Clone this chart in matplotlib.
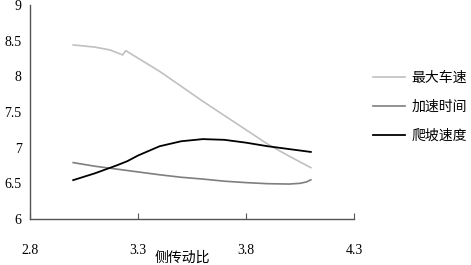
import matplotlib
matplotlib.use('Agg')
import matplotlib.pyplot as plt

plt.rcParams['font.family'] = ['Liberation Serif', 'Noto Sans CJK SC', 'DejaVu Sans']

# 最大车速
x_max = [3.0, 3.1, 3.17, 3.229, 3.243, 3.4, 3.6, 3.8, 3.9, 4.0, 4.1]
y_max = [8.44, 8.41, 8.37, 8.30, 8.36, 8.07, 7.65, 7.25, 7.05, 6.88, 6.72]

# 加速时间
x_acc = [3.0, 3.1, 3.2, 3.3, 3.4, 3.5, 3.6, 3.7, 3.8, 3.9, 4.0, 4.05, 4.08, 4.1]
y_acc = [6.79, 6.74, 6.70, 6.66, 6.62, 6.585, 6.56, 6.53, 6.51, 6.495, 6.49, 6.50, 6.52, 6.55]

# 爬坡速度
x_clb = [3.0, 3.1, 3.2, 3.25, 3.3, 3.4, 3.5, 3.6, 3.7, 3.8, 3.9, 4.0, 4.1]
y_clb = [6.545, 6.64, 6.75, 6.81, 6.89, 7.02, 7.09, 7.12, 7.11, 7.07, 7.02, 6.98, 6.94]

labels = ['最大车速', '加速时间', '爬坡速度']
xticks = [2.8, 3.3, 3.8, 4.3]
yticks = [6, 6.5, 7, 7.5, 8, 8.5, 9]

fig = plt.figure(figsize=(4.71, 2.65), dpi=100)
ax = fig.add_axes([0.0637, 0.1736, 0.688, 0.8075])

ax.plot(x_max, y_max, color='#c0c0c0', lw=1.2, label=labels[0])
ax.plot(x_acc, y_acc, color='#7f7f7f', lw=1.2, label=labels[1])
ax.plot(x_clb, y_clb, color='black', lw=1.3, label=labels[2])

ax.set_xlim(2.8, 4.3)
ax.set_ylim(6, 9)
ax.set_xticks(xticks)
ax.set_xticklabels(['2.8', '3.3', '3.8', '4.3'])
ax.set_yticks(yticks)
ax.set_yticklabels(['6', '6.5', '7', '7.5', '8', '8.5', '9'])
ax.tick_params(axis='x', direction='in', length=4, pad=18, labelsize=10, color='#555555')
ax.tick_params(axis='y', length=0, pad=6, labelsize=10)

for s in ['top', 'right']:
    ax.spines[s].set_visible(False)
for s in ['left', 'bottom']:
    ax.spines[s].set_color('#555555')
    ax.spines[s].set_linewidth(1.0)

fig.text(182 / 471, 1 - 258 / 265, '侧传动比', ha='center', va='center',
         fontsize=10, family=['Noto Sans CJK SC', 'DejaVu Sans'])

leg = ax.legend(loc='upper left', bbox_to_anchor=(373 / 471, 1 - 71 / 265),
                bbox_transform=fig.transFigure, frameon=False,
                borderpad=0, borderaxespad=0,
                prop={'family': ['Noto Sans CJK SC', 'DejaVu Sans'], 'size': 10},
                handlelength=2.3, handletextpad=0.5, labelspacing=1.08)

fig.savefig('out.png', dpi=100)
